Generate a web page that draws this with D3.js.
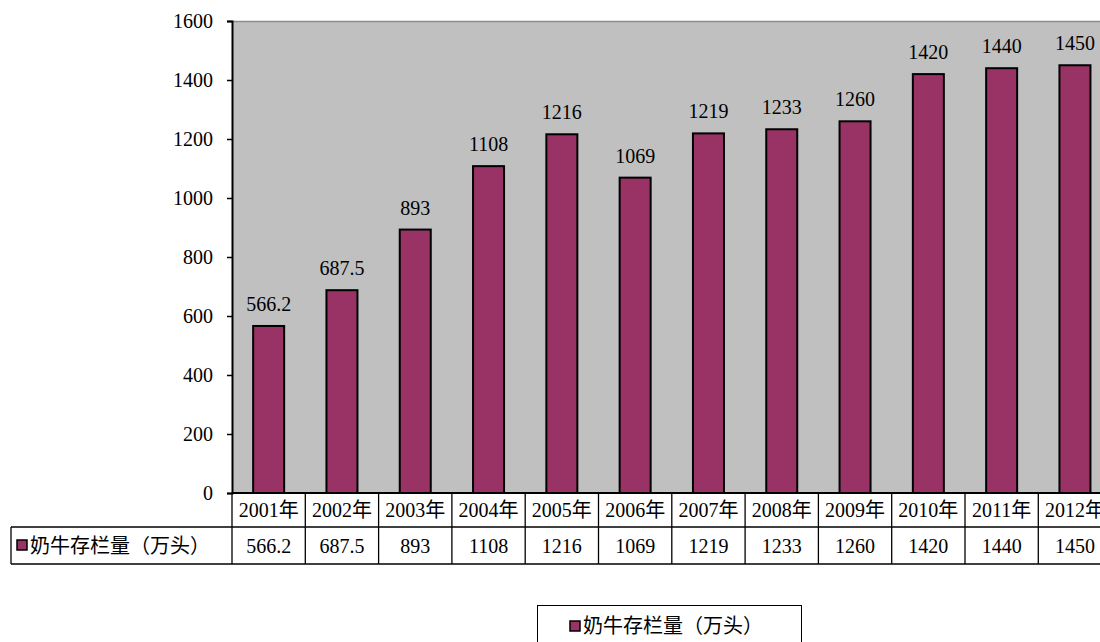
<!DOCTYPE html>
<html><head><meta charset="utf-8">
<script src="https://cdn.jsdelivr.net/npm/d3@7"></script>
<style>body{margin:0;background:#fff}svg{display:block}
.serif{font-family:"Liberation Serif","Times New Roman","DejaVu Serif",serif;}
.cjk{font-family:"Noto Sans CJK SC","Noto Sans",sans-serif;}
</style>
</head><body>
<script>
const categories = ["2001年","2002年","2003年","2004年","2005年","2006年","2007年","2008年","2009年","2010年","2011年","2012年"];
const values = [566.2,687.5,893,1108,1216,1069,1219,1233,1260,1420,1440,1450];
const valueLabels = ["566.2","687.5","893","1108","1216","1069","1219","1233","1260","1420","1440","1450"];
const yTicks = [0,200,400,600,800,1000,1200,1400,1600];
const seriesName = "奶牛存栏量（万头）";

const W = 1100, H = 642;
const plotLeft = 232, plotTop = 21, plotBottom = 493, bandW = 73.3;
const plotRight = plotLeft + bandW * categories.length;
const fs = 20;

const svg = d3.select("body").append("svg").attr("width", W).attr("height", H);
const x = d3.scaleBand().domain(categories).range([plotLeft, plotRight]).paddingInner(0).paddingOuter(0);
const y = d3.scaleLinear().domain([0,1600]).range([plotBottom, plotTop]);

// plot background
svg.append("rect").attr("x", plotLeft).attr("y", plotTop).attr("width", plotRight-plotLeft).attr("height", plotBottom-plotTop)
  .attr("fill", "#c0c0c0");
svg.append("line").attr("x1", plotLeft).attr("x2", plotRight).attr("y1", plotTop+0.5).attr("y2", plotTop+0.5)
  .attr("stroke", "#8c8c8c").attr("stroke-width", 1.5);

// bars
const bw = 31;
svg.append("g").selectAll("rect").data(values).join("rect")
  .attr("x", (d,i) => x(categories[i]) + x.bandwidth()/2 - bw/2)
  .attr("y", d => y(d))
  .attr("width", bw)
  .attr("height", d => plotBottom - y(d))
  .attr("fill", "#993366").attr("stroke", "#000").attr("stroke-width", 2);

// data labels
svg.append("g").selectAll("text").data(values).join("text")
  .attr("class", "serif")
  .attr("x", (d,i) => x(categories[i]) + x.bandwidth()/2)
  .attr("y", d => y(d) - 15)
  .attr("text-anchor", "middle")
  .style("font-size", fs + "px").attr("fill", "#000")
  .text((d,i) => valueLabels[i]);

// y axis
const yAxis = d3.axisLeft(y).tickValues(yTicks).tickSize(5).tickPadding(14).tickFormat(d3.format("d"));
const ga = svg.append("g").attr("transform", `translate(${plotLeft},0)`).call(yAxis)
  .attr("font-family", null).attr("font-size", null);
ga.select(".domain").attr("stroke", "#000").attr("stroke-width", 2);
ga.selectAll(".tick line").attr("stroke", "#000").attr("stroke-width", 1.5);
ga.selectAll(".tick text").attr("class", "serif").style("font-size", fs + "px").attr("fill", "#000");

// data table
const row1 = 493, row2 = 527, row3 = 564, tableLeft = 11;
const tg = svg.append("g").attr("stroke", "#000").attr("stroke-width", 1.3);
tg.append("line").attr("x1", plotLeft).attr("x2", plotRight).attr("y1", row1).attr("y2", row1).attr("stroke-width", 2);
tg.append("line").attr("x1", tableLeft).attr("x2", plotRight).attr("y1", row2).attr("y2", row2);
tg.append("line").attr("x1", tableLeft).attr("x2", plotRight).attr("y1", row3).attr("y2", row3);
tg.append("line").attr("x1", tableLeft).attr("x2", tableLeft).attr("y1", row2).attr("y2", row3);
const bounds = categories.map(c => x(c)).concat([plotRight]);
tg.selectAll("line.v").data(bounds).join("line").attr("class","v")
  .attr("x1", d => d).attr("x2", d => d).attr("y1", row1).attr("y2", row3);

svg.append("g").selectAll("text").data(categories).join("text")
  .attr("x", d => x(d) + x.bandwidth()/2)
  .attr("y", (row1+row2)/2)
  .attr("dy", "0.35em")
  .attr("text-anchor", "middle")
  .style("font-size", fs + "px").attr("fill", "#000")
  .each(function(d){
    const t = d3.select(this);
    t.append("tspan").attr("class", "serif").text(d.replace("年",""));
    t.append("tspan").attr("class", "cjk").text("年");
  });

svg.append("g").selectAll("text").data(valueLabels).join("text")
  .attr("class", "serif")
  .attr("x", (d,i) => x(categories[i]) + x.bandwidth()/2)
  .attr("y", (row2+row3)/2)
  .attr("dy", "0.35em")
  .attr("text-anchor", "middle")
  .style("font-size", fs + "px").attr("fill", "#000")
  .text(d => d);

// row header with legend key
svg.append("rect").attr("x", 17).attr("y", 540).attr("width", 10).attr("height", 10)
  .attr("fill", "#993366").attr("stroke", "#000").attr("stroke-width", 1.5);
svg.append("text").attr("class", "cjk").attr("x", 30).attr("y", (row2+row3)/2).attr("dy", "0.35em")
  .style("font-size", "20px").attr("fill", "#000").text(seriesName);

// legend
svg.append("rect").attr("x", 537.5).attr("y", 605.5).attr("width", 264).attr("height", 50)
  .attr("fill", "#fff").attr("stroke", "#000").attr("stroke-width", 1);
svg.append("rect").attr("x", 570).attr("y", 621).attr("width", 10).attr("height", 10)
  .attr("fill", "#993366").attr("stroke", "#000").attr("stroke-width", 1.5);
svg.append("text").attr("class", "cjk").attr("x", 583).attr("y", 626).attr("dy", "0.35em")
  .style("font-size", "20px").attr("fill", "#000").text(seriesName);
</script>
</body></html>
